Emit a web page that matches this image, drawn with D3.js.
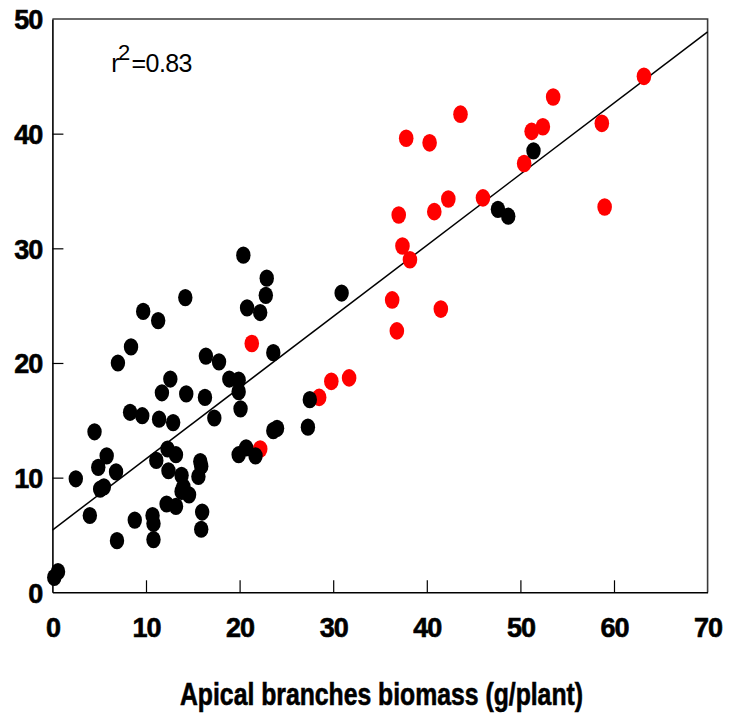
<!DOCTYPE html>
<html>
<head>
<meta charset="utf-8">
<script src="https://cdn.jsdelivr.net/npm/d3@7"></script>
<style>
  body { margin: 0; background: #fff; }
  text { font-family: "Liberation Sans", Arial, sans-serif; }
</style>
</head>
<body>
<div id="vizz_scatter"></div>
<script>
// DATA
var black_x = [0.2, 0.6, 2.5, 4.0, 4.5, 4.9, 5.8, 5.1, 5.5, 6.8, 6.9, 7.0, 8.4, 8.3, 9.6, 8.8,
  10.7, 10.8, 10.8, 11.1, 11.4, 11.7, 12.6, 12.3, 13.2, 12.4, 12.2, 13.2, 12.9, 13.8, 14.0, 13.8,
  14.6, 14.3, 15.6, 15.8, 15.9, 16.0, 15.9, 16.3, 16.4, 17.3, 17.8, 18.9, 19.9, 19.9, 20.1, 19.9,
  20.7, 21.7, 23.6, 23.6, 24.0, 27.3, 27.5, 20.4, 22.9, 22.8, 20.8, 22.2, 14.2, 9.7, 11.3, 30.9,
  51.4, 47.6, 48.7];
var black_y = [1.3, 1.8, 9.9, 6.7, 14.0, 10.9, 11.9, 9.0, 9.2, 10.5, 4.5, 20.0, 21.4, 15.7, 15.4, 6.3,
  6.7, 6.0, 4.6, 11.5, 15.1, 17.4, 18.6, 12.5, 12.0, 10.6, 7.7, 7.5, 14.8, 10.2, 9.2, 8.8,
  8.5, 17.3, 10.1, 11.4, 11.0, 7.0, 5.5, 17.0, 20.6, 15.2, 20.1, 18.6, 18.5, 17.5, 16.0, 12.0,
  12.6, 11.9, 20.9, 14.1, 14.3, 14.4, 16.8, 29.4, 27.4, 25.9, 24.8, 24.4, 25.7, 24.5, 23.7, 26.1,
  38.5, 33.4, 32.8];
var red_x = [21.3, 22.2, 28.5, 29.8, 31.7, 63.2, 53.5, 43.6, 37.8, 40.3, 52.4, 51.2, 58.7, 50.4,
  42.3, 40.8, 37.0, 46.0, 37.4, 38.2, 36.3, 41.5, 36.8, 59.0];
var red_y = [21.7, 12.5, 17.0, 18.4, 18.7, 45.0, 43.2, 41.7, 39.6, 39.2, 40.6, 40.2, 40.9, 37.4,
  34.3, 33.2, 32.9, 34.4, 30.2, 29.0, 25.5, 24.7, 22.8, 33.6];

// regression line: y = a + b*x  (r2 = 0.83)
var fit_a = 5.43;
var fit_b = 0.6206;
var x_ticks = [0, 10, 20, 30, 40, 50, 60, 70];
var y_ticks = [0, 10, 20, 30, 40, 50];
var x_title = "Apical branches biomass (g/plant)";
var r2_label = "0.83";

// set the dimensions and margins of the graph
var margin = {top: 19, right: 23.4, bottom: 122.7, left: 52.4},
    width = 731 - margin.left - margin.right,
    height = 715 - margin.top - margin.bottom;

var svg = d3.select("#vizz_scatter")
  .append("svg")
    .attr("width", 731)
    .attr("height", 715)
  .append("g")
    .attr("transform", "translate(" + margin.left + "," + margin.top + ")");

var x = d3.scaleLinear().domain([0, 70]).range([0, width]);
var y = d3.scaleLinear().domain([0, 50]).range([height, 0]);

// frame (top + right)
svg.append("path")
  .attr("d", "M0,0H" + width + "V" + height)
  .attr("fill", "none")
  .attr("stroke", "#3a3a3a")
  .attr("stroke-width", 1.6);

// X axis, ticks pointing inward
var xAxis = svg.append("g")
  .attr("transform", "translate(0," + height + ")")
  .call(d3.axisBottom(x).tickValues(x_ticks).tickSizeInner(-12).tickSizeOuter(0));
xAxis.select(".domain").attr("stroke", "#000").attr("stroke-width", 1.6);
xAxis.selectAll(".tick line")
  .attr("stroke-width", 1.2)
  .style("display", function(d) { return (d == 0 || d == 70) ? "none" : null; });
xAxis.selectAll("text")
  .attr("y", 0).attr("dy", 45)
  .attr("font-size", 27).attr("font-weight", "bold").attr("fill", "#000")
  .attr("stroke", "#000").attr("stroke-width", 0.6)
  .attr("font-family", "Liberation Sans, Arial, sans-serif")
  .attr("letter-spacing", -1);

// Y axis
var yAxis = svg.append("g")
  .call(d3.axisLeft(y).tickValues(y_ticks).tickSizeInner(-11).tickSizeOuter(0));
yAxis.select(".domain").attr("stroke", "#000").attr("stroke-width", 1.6);
yAxis.selectAll(".tick line")
  .attr("stroke-width", 1.2)
  .style("display", function(d) { return (d == 0 || d == 50) ? "none" : null; });
yAxis.selectAll("text")
  .attr("x", -10).attr("dy", "0.36em")
  .attr("font-size", 27).attr("font-weight", "bold").attr("fill", "#000")
  .attr("stroke", "#000").attr("stroke-width", 0.6)
  .attr("font-family", "Liberation Sans, Arial, sans-serif")
  .attr("letter-spacing", -1);

// regression line
svg.append("line")
  .attr("x1", x(0)).attr("y1", y(fit_a))
  .attr("x2", x(70)).attr("y2", y(fit_a + fit_b * 70))
  .attr("stroke", "#000")
  .attr("stroke-width", 1.5);

// red points first, black on top
svg.selectAll("redpt")
  .data(d3.range(red_x.length))
  .enter()
  .append("ellipse")
    .attr("cx", function(i) { return x(red_x[i]); })
    .attr("cy", function(i) { return y(red_y[i]); })
    .attr("rx", 7.3)
    .attr("ry", 8.8)
    .attr("fill", "#ff0000");

svg.selectAll("blackpt")
  .data(d3.range(black_x.length))
  .enter()
  .append("ellipse")
    .attr("cx", function(i) { return x(black_x[i]); })
    .attr("cy", function(i) { return y(black_y[i]); })
    .attr("rx", 7.2)
    .attr("ry", 8.6)
    .attr("fill", "#000");

// r2 annotation
var r2 = svg.append("text")
  .attr("x", 58.8)
  .attr("y", 53)
  .attr("font-size", 25)
  .attr("letter-spacing", -0.6)
  .attr("fill", "#000");
r2.append("tspan").text("r");
r2.append("tspan").attr("dy", -12).attr("dx", -1).attr("font-size", 22).text("2");
r2.append("tspan").attr("dy", 12).attr("dx", 2).text("=" + r2_label);

// x axis title
svg.append("text")
  .attr("x", width / 2 + 1.5)
  .attr("y", 705)
  .attr("transform", "translate(0," + (-margin.top) + ")")
  .attr("text-anchor", "middle")
  .attr("font-size", 31)
  .attr("font-weight", "bold")
  .attr("stroke", "#000")
  .attr("stroke-width", 0.6)
  .attr("textLength", 403)
  .attr("lengthAdjust", "spacingAndGlyphs")
  .text(x_title);
</script>
</body>
</html>
